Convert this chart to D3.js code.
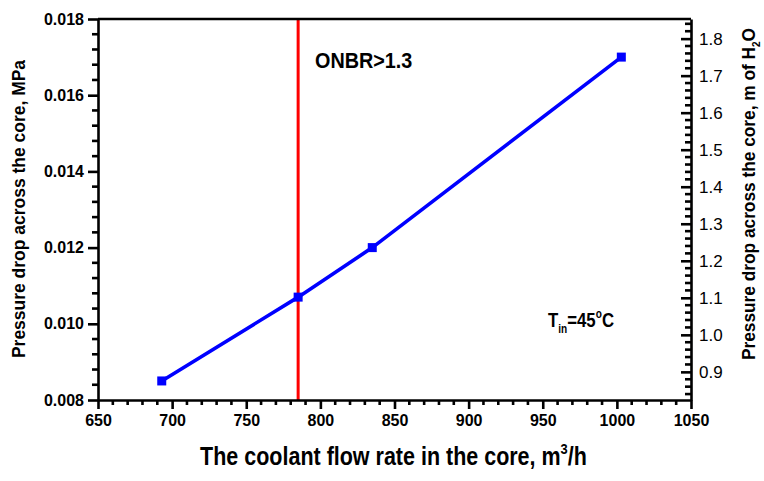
<!DOCTYPE html>
<html>
<head>
<meta charset="utf-8">
<script src="https://cdn.jsdelivr.net/npm/d3@7"></script>
<style>
  html, body { margin: 0; padding: 0; background: #fff; }
  svg { display: block; }
  text { font-family: "Liberation Sans", Arial, Helvetica, sans-serif; }
</style>
</head>
<body>
<svg id="chart" width="764" height="481"></svg>
<script>
// Coolant flow rate (m3/h) and pressure drop across the core (MPa)
const flowRate = [693, 785, 835, 1003];
const pressureDrop = [0.0085, 0.0107, 0.0120, 0.0170];

// Flow rate at which ONBR > 1.3 is reached
const onbrFlow = 785;

// Axis ranges and tick values
const xDomain = [650, 1050];
const xTicks = [650, 700, 750, 800, 850, 900, 950, 1000, 1050];
const yDomain = [0.008, 0.018];
const yTicks = [0.008, 0.010, 0.012, 0.014, 0.016, 0.018];
const y2Domain = [0.824, 1.853];   // same range in m of H2O (water at 45 °C)
const y2Ticks = [0.9, 1.0, 1.1, 1.2, 1.3, 1.4, 1.5, 1.6, 1.7, 1.8];

const svg = d3.select("#chart");
const m = { left: 98, right: 691, top: 19, bottom: 400 };

const x = d3.scaleLinear().domain(xDomain).range([m.left, m.right]);
const y = d3.scaleLinear().domain(yDomain).range([m.bottom, m.top]);
const y2 = d3.scaleLinear().domain(y2Domain).range([m.bottom, m.top]);

const xMinor = d3.range(650, 1050.001, 10).filter(v => v % 50 !== 0);
const yMinor = d3.range(0, 26).map(i => 0.008 + i * 0.0004).filter((v, i) => i % 5 !== 0);
const y2Minor = d3.range(0, 51).map(i => +(0.84 + i * 0.02).toFixed(2))
  .filter(v => v <= y2Domain[1] && Math.round(v * 100) % 10 !== 0);

const axisW = 2.6;

// Red vertical line marking ONBR limit
svg.append("line")
  .attr("x1", x(onbrFlow)).attr("x2", x(onbrFlow))
  .attr("y1", m.top).attr("y2", m.bottom)
  .attr("stroke", "#ff0000").attr("stroke-width", 3);

// Data line and square markers
const pts = flowRate.map((f, i) => [f, pressureDrop[i]]);
svg.append("path")
  .datum(pts)
  .attr("fill", "none")
  .attr("stroke", "#0000ff")
  .attr("stroke-width", 3.6)
  .attr("d", d3.line().x(d => x(d[0])).y(d => y(d[1])));

svg.selectAll("rect.pt").data(pts).enter().append("rect")
  .attr("class", "pt")
  .attr("x", d => x(d[0]) - 4.5).attr("y", d => y(d[1]) - 4.5)
  .attr("width", 9).attr("height", 9)
  .attr("fill", "#0000ff");

// Frame: top line
svg.append("line")
  .attr("x1", m.left).attr("x2", m.right)
  .attr("y1", m.top).attr("y2", m.top)
  .attr("stroke", "#000").attr("stroke-width", axisW);

function styleAxis(g) {
  g.select(".domain").attr("stroke", "#000").attr("stroke-width", axisW);
  g.selectAll(".tick line").attr("stroke", "#000").attr("stroke-width", axisW);
}

// Bottom axis
const gx = svg.append("g").attr("transform", `translate(0,${m.bottom})`)
  .call(d3.axisBottom(x).tickValues(xTicks).tickSize(9).tickSizeOuter(0).tickPadding(6).tickFormat(d3.format("d")));
styleAxis(gx);
gx.selectAll(".tick text").attr("font-size", 16).attr("font-weight", "bold").attr("fill", "#000");
gx.append("g").selectAll("line").data(xMinor).enter().append("line")
  .attr("x1", d => x(d)).attr("x2", d => x(d)).attr("y1", 0).attr("y2", 5)
  .attr("stroke", "#000").attr("stroke-width", axisW);

// Left axis
const gy = svg.append("g").attr("transform", `translate(${m.left},0)`)
  .call(d3.axisLeft(y).tickValues(yTicks).tickSize(10).tickSizeOuter(0).tickPadding(4).tickFormat(d3.format(".3f")));
styleAxis(gy);
gy.selectAll(".tick text").attr("font-size", 16).attr("font-weight", "bold").attr("fill", "#000");
gy.append("g").selectAll("line").data(yMinor).enter().append("line")
  .attr("x1", -6).attr("x2", 0).attr("y1", d => y(d)).attr("y2", d => y(d))
  .attr("stroke", "#000").attr("stroke-width", axisW);

// Right axis (m of H2O), ticks pointing inward
const gy2 = svg.append("g").attr("transform", `translate(${m.right},0)`)
  .call(d3.axisRight(y2).tickValues(y2Ticks).tickSize(-10).tickSizeOuter(0).tickPadding(8).tickFormat(d3.format(".1f")));
styleAxis(gy2);
gy2.selectAll(".tick text").attr("font-size", 17).attr("fill", "#000");
gy2.append("g").selectAll("line").data(y2Minor).enter().append("line")
  .attr("x1", -6).attr("x2", 0).attr("y1", d => y2(d)).attr("y2", d => y2(d))
  .attr("stroke", "#000").attr("stroke-width", axisW);

// Axis titles (condensed bold lettering)
const xt = svg.append("text")
  .attr("transform", `translate(${(m.left + m.right) / 2 - 1},465) scale(0.86,1)`)
  .attr("text-anchor", "middle").attr("font-size", 25).attr("font-weight", "bold");
xt.append("tspan").text("The coolant flow rate in the core, m");
xt.append("tspan").attr("font-size", 15).attr("dy", -11).text("3");
xt.append("tspan").attr("dy", 11).text("/h");

svg.append("text")
  .attr("transform", `translate(25,209) rotate(-90) scale(0.92,1)`)
  .attr("text-anchor", "middle").attr("font-size", 19).attr("font-weight", "bold")
  .text("Pressure drop across the core, MPa");

const rt = svg.append("text")
  .attr("transform", `translate(755,194) rotate(-90) scale(0.91,1)`)
  .attr("text-anchor", "middle").attr("font-size", 19).attr("font-weight", "bold");
rt.append("tspan").text("Pressure drop across the core, m of H");
rt.append("tspan").attr("font-size", 11).attr("dy", 5).text("2");
rt.append("tspan").attr("dy", -5).text("O");

// Annotations
svg.append("text")
  .attr("transform", "translate(315,68) scale(0.9,1)")
  .attr("font-size", 22).attr("font-weight", "bold")
  .text("ONBR>1.3");

const tin = svg.append("text")
  .attr("transform", "translate(548,327) scale(0.84,1)")
  .attr("font-size", 20).attr("font-weight", "bold");
tin.append("tspan").text("T");
tin.append("tspan").attr("font-size", 12).attr("dy", 6).text("in");
tin.append("tspan").attr("dy", -6).text("=45");
tin.append("tspan").attr("font-size", 12).attr("dy", -9).text("o");
tin.append("tspan").attr("dy", 9).text("C");
</script>
</body>
</html>
